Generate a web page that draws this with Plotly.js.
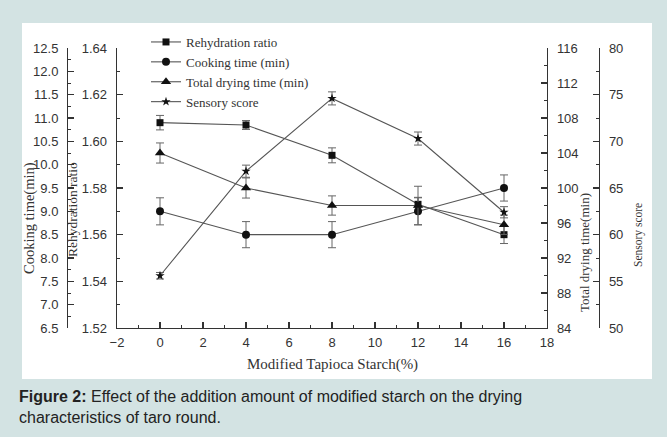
<!DOCTYPE html>
<html>
<head>
<meta charset="utf-8">
<script src="https://cdn.plot.ly/plotly-3.0.1.min.js"></script>
<style>
html,body{margin:0;padding:0;background:#d3e3e3;}
#chart{width:667px;height:437px;}
</style>
</head>
<body>
<div id="chart"></div>
<script>
// ---- data ----
const starch = [0, 4, 8, 12, 16];
const rehydration = [1.608, 1.607, 1.594, 1.573, 1.560];
const rehydrationErr = [0.0031, 0.0019, 0.0032, 0.0030, 0.0038];
const cooking = [9.0, 8.5, 8.5, 9.0, 9.5];
const cookingErr = [0.29, 0.28, 0.28, 0.29, 0.28];
const drying = [104, 100, 98, 98, 95.8];
const dryingErr = [1.15, 1.15, 1.1, 2.2, 1.1];
const sensory = [55.6, 66.8, 74.6, 70.3, 62.4];
const sensoryErr = [0.35, 0.65, 0.7, 0.7, 0.6];

const seriesNames = ['Rehydration ratio', 'Cooking time (min)', 'Total drying time (min)', 'Sensory score'];
const xTitle = 'Modified Tapioca Starch(%)';
const yTitles = ['Rehydration ratio', 'Cooking time(min)', 'Total drying time(min)', 'Sensory score'];
const caption = '<b>Figure 2:</b> Effect of the addition amount of modified starch on the drying<br>characteristics of taro round.';

const SANS = 'Liberation Sans, Arial, sans-serif';
const SERIF = 'Liberation Serif, Times New Roman, serif';
const LINE = '#333';
const TXT = '#333';

function mk(y, err, name, symbol, size, yaxis) {
  return {
    x: starch, y: y, name: name, yaxis: yaxis,
    type: 'scatter', mode: 'lines+markers',
    line: {color: '#555', width: 1.1},
    marker: {symbol: symbol, size: size, color: '#111'},
    error_y: {type: 'data', array: err, visible: true, color: '#666', thickness: 1, width: 4}
  };
}

const traces = [
  mk(rehydration, rehydrationErr, seriesNames[0], 'square', 7, 'y'),
  mk(cooking, cookingErr, seriesNames[1], 'circle', 8, 'y2'),
  mk(drying, dryingErr, seriesNames[2], 'triangle-up', 9, 'y3'),
  mk(sensory, sensoryErr, seriesNames[3], 'star', 7, 'y4')
];

function minorOf(d) {
  return {dtick: d, ticks: 'inside', ticklen: 3, tickcolor: LINE, tickwidth: 1, showgrid: false};
}

function yax(extra) {
  return Object.assign({
    showline: true, linecolor: LINE, linewidth: 1.3,
    ticks: 'inside', ticklen: 6, tickcolor: LINE, tickwidth: 1.2,
    showgrid: false, zeroline: false,
    tickfont: {family: SANS, size: 13, color: TXT},
    ticklabelstandoff: 6
  }, extra);
}

const pxX = p => (p - 67) / 532;
const pxY = p => (328 - p) / 280;

function title(text, px, py, size, angle) {
  return {text: text, xref: 'paper', yref: 'paper', x: pxX(px), y: pxY(py),
    xanchor: 'center', yanchor: 'middle', showarrow: false, textangle: angle,
    font: {family: SERIF, size: size, color: TXT}};
}

const layout = {
  width: 667, height: 437,
  margin: {l: 67, r: 68, t: 48, b: 109},
  paper_bgcolor: '#d3e3e3',
  plot_bgcolor: 'rgba(0,0,0,0)',
  showlegend: true,
  legend: {
    x: pxX(146), y: pxY(27), xanchor: 'left', yanchor: 'top',
    bgcolor: 'rgba(0,0,0,0)', borderwidth: 0,
    font: {family: SERIF, size: 13, color: TXT},
    tracegroupgap: 0
  },
  xaxis: {
    domain: [pxX(117), pxX(547)],
    range: [-2, 18], dtick: 2, tick0: 0,
    showline: true, linecolor: LINE, linewidth: 1.3,
    ticks: 'inside', ticklen: 6, tickcolor: LINE, tickwidth: 1.2,
    showgrid: false, zeroline: false,
    tickfont: {family: SANS, size: 13, color: TXT},
    ticklabelstandoff: 2,
    minor: minorOf(1)
  },
  yaxis: yax({range: [1.52, 1.64], dtick: 0.02, tick0: 1.52, tickformat: '.2f', minor: minorOf(0.01)}),
  yaxis2: yax({overlaying: 'y', anchor: 'free', position: 0, side: 'left', range: [6.5, 12.5], dtick: 0.5, tick0: 6.5, tickformat: '.1f', minor: minorOf(0.25)}),
  yaxis3: yax({overlaying: 'y', anchor: 'x', side: 'right', range: [84, 116], dtick: 4, tick0: 84, minor: minorOf(2)}),
  yaxis4: yax({overlaying: 'y', anchor: 'free', position: 1, side: 'right', range: [50, 80], dtick: 5, tick0: 50, minor: minorOf(2.5)}),
  shapes: [{
    type: 'rect', xref: 'paper', yref: 'paper', layer: 'below',
    x0: pxX(22), x1: pxX(652), y0: pxY(379), y1: pxY(23),
    fillcolor: '#ffffff', line: {width: 0}
  }],
  annotations: [
    title(xTitle, 332, 364, 15, 0),
    title(yTitles[1], 29, 218, 14.5, -90),
    title(yTitles[0], 73, 210, 13.5, -90),
    title(yTitles[2], 584, 253, 13, -90),
    title(yTitles[3], 638, 235, 11.5, -90),
    {text: caption, xref: 'paper', yref: 'paper', x: pxX(17), y: pxY(386), xanchor: 'left', yanchor: 'top',
     align: 'left', showarrow: false, font: {family: SANS, size: 16, color: '#222'}}
  ]
};

Plotly.newPlot('chart', traces, layout, {displayModeBar: false, staticPlot: true});
</script>
</body>
</html>
